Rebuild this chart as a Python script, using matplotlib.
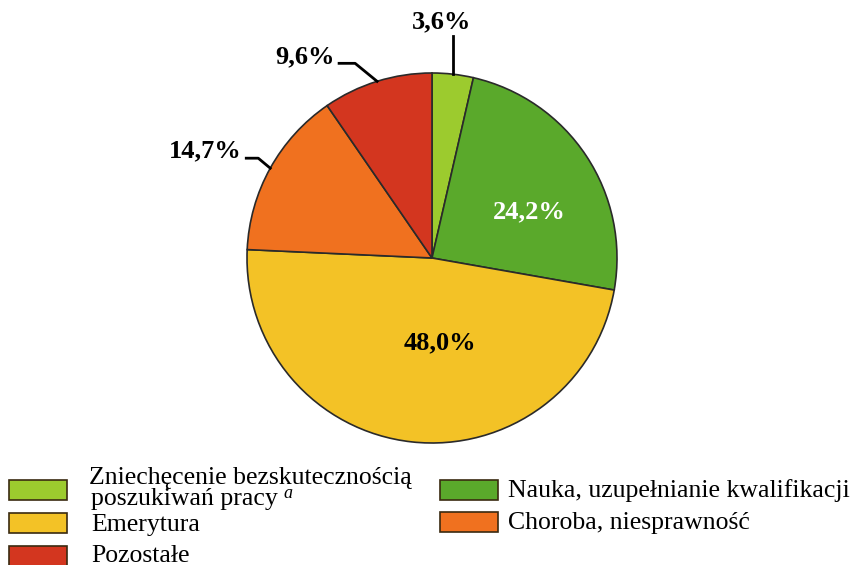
import numpy as np
import matplotlib.pyplot as plt
from matplotlib.patches import Rectangle

# Data
categories = ["Zniechęcenie bezskutecznością\nposzukiwań pracy",
              "Nauka, uzupełnianie kwalifikacji",
              "Emerytura",
              "Choroba, niesprawność",
              "Pozostałe"]
shares = [3.6, 24.2, 48.0, 14.7, 9.6]
labels = ["3,6%", "24,2%", "48,0%", "14,7%", "9,6%"]
colors = ["#9ccb2e", "#5aa92b", "#f3c226", "#f0711f", "#d3361f"]

W, H = 851, 565
plt.rcParams['font.family'] = ['Liberation Serif', 'DejaVu Serif']

fig = plt.figure(figsize=(W / 100, H / 100), dpi=100)
ax = fig.add_axes([0, 0, 1, 1])

cx, cy, r = 432, H - 258, 185
wedges, _ = ax.pie(shares, colors=colors, startangle=90, counterclock=False,
                   center=(cx, cy), radius=r, frame=True,
                   wedgeprops=dict(edgecolor='#2a2a2a', linewidth=1.2))
ax.set_xlim(0, W)
ax.set_ylim(0, H)
ax.axis('off')

# mid angles of the wedges
mids = [np.deg2rad((w.theta1 + w.theta2) / 2) for w in wedges]

def edge(i):
    return cx + r * np.cos(mids[i]), cy + r * np.sin(mids[i])

fs = 19
# inside labels
ax.text(cx + 97, cy + 46, labels[1], color='white', fontsize=fs,
        fontweight='bold', ha='center', va='center')
ax.text(cx + 8, cy - 85, labels[2], color='black', fontsize=fs,
        fontweight='bold', ha='center', va='center')

# outside labels with leader lines
lc = dict(color='black', lw=2)
ex, ey = edge(0)
ax.plot([ex, ex], [ey, ey + 38], **lc)
ax.text(ex - 11, ey + 52, labels[0], fontsize=fs, fontweight='bold', ha='center', va='center')

ex, ey = edge(4)
ax.plot([ex, ex - 22, ex - 38], [ey, ey + 18, ey + 18], **lc)
ax.text(ex - 42, ey + 25, labels[4], fontsize=fs, fontweight='bold', ha='right', va='center')

ex, ey = edge(3)
ax.plot([ex, ex - 12, ex - 24], [ey, ey + 10, ey + 10], **lc)
ax.text(ex - 29, ey + 17, labels[3], fontsize=fs, fontweight='bold', ha='right', va='center')

# legend: (category index, patch x, patch center y, text baseline y)
lfs = 18.5
entries = [(0, 9, 490, 484), (2, 9, 523, 531), (4, 9, 556, 562),
           (1, 440, 490, 497), (3, 440, 522, 529)]
for i, x, y, base in entries:
    ax.add_patch(Rectangle((x, H - y - 10), 58, 20, facecolor=colors[i],
                           edgecolor='#3a2a10', lw=1.2))
    tx = x + 68 + (14 if x < 100 else 0)
    if i == 0:
        line1, line2 = categories[0].split("\n")
        ax.text(tx - 2, H - base, line1, fontsize=lfs, va='baseline')
        ax.text(tx, H - 505, line2, fontsize=lfs, va='baseline')
        ax.text(283, H - 494, "a", fontsize=13, style='italic', va='center')
    else:
        ax.text(tx, H - base, categories[i], fontsize=lfs, va='baseline')

fig.savefig("out.png", dpi=100)
